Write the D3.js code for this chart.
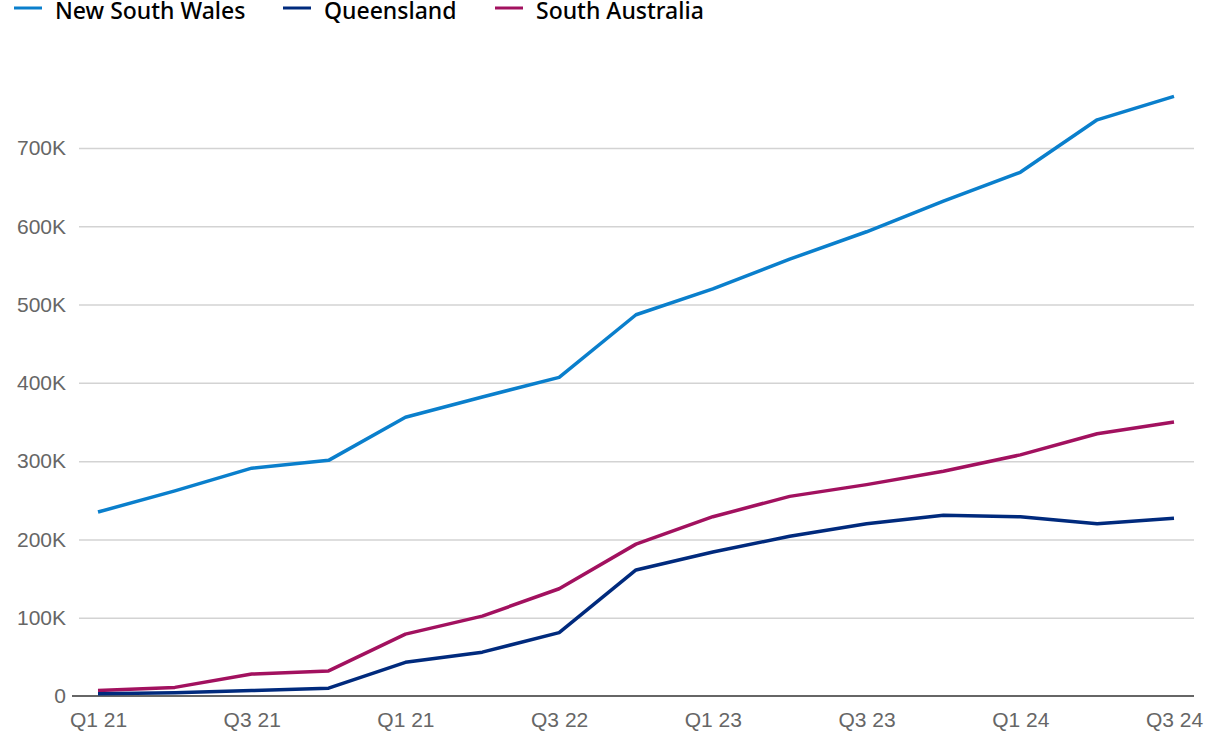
<!DOCTYPE html>
<html>
<head>
<meta charset="utf-8">
<script src="https://cdn.jsdelivr.net/npm/d3@7"></script>
<style>
  body { margin: 0; background: #fff; }
  svg { display: block; font-family: "Noto Sans", "Liberation Sans", sans-serif; }
</style>
</head>
<body>
<svg id="chart" width="1220" height="742"></svg>
<script>
// quarters shown on the x axis (the 5th label really reads "Q1 21" in the source)
var quarters = ["Q1 21", "Q2 21", "Q3 21", "Q4 21", "Q1 21", "Q2 22", "Q3 22", "Q4 22",
                "Q1 23", "Q2 23", "Q3 23", "Q4 23", "Q1 24", "Q2 24", "Q3 24"]
var tickEvery = 2

var nsw = [235000, 262000, 291000, 301000, 356000, 382000, 407000, 487000,
           520000, 558000, 593000, 632000, 669000, 736000, 766000]
var qld = [3000, 4000, 7000, 10000, 43000, 56000, 81000, 161000,
           184000, 204000, 220000, 231000, 229000, 220000, 227000]
var sa  = [7000, 11000, 28000, 32000, 79000, 102000, 137000, 194000,
           229000, 255000, 270000, 287000, 308000, 335000, 350000]

var seriesNames = ["New South Wales", "Queensland", "South Australia"]
var yTicks = [0, 100000, 200000, 300000, 400000, 500000, 600000, 700000]

var colors = ["#0a7fcc", "#002a7d", "#a2115f"]
var series = [nsw, qld, sa]

var svg = d3.select("#chart")

var x = d3.scalePoint()
  .domain(d3.range(quarters.length))
  .range([98, 1174])

var y = d3.scaleLinear()
  .domain([0, 700000])
  .range([696, 148])

// grid
var yAxis = d3.axisLeft(y)
  .tickValues(yTicks)
  .tickSize(-(1194 - 79))
  .tickPadding(13)
  .tickFormat(function(d){ return d === 0 ? "0" : (d / 1000) + "K" })

var gy = svg.append("g")
  .attr("transform", "translate(79,0)")
  .call(yAxis)
gy.select(".domain").remove()
gy.selectAll(".tick line")
  .attr("stroke", function(d){ return d === 0 ? "none" : "#d3d3d3" })
  .attr("stroke-width", 1.5)
gy.selectAll(".tick text")
  .attr("fill", "#666")
  .style("font-size", "21px")

// baseline
svg.append("line")
  .attr("x1", 72).attr("x2", 1194)
  .attr("y1", y(0)).attr("y2", y(0))
  .attr("stroke", "#666")
  .attr("stroke-width", 2)

// x axis labels
var xAxis = d3.axisBottom(x)
  .tickValues(d3.range(0, quarters.length, tickEvery))
  .tickSize(0)
  .tickPadding(16)
  .tickFormat(function(i){ return quarters[i] })

var gx = svg.append("g")
  .attr("transform", "translate(0," + y(0) + ")")
  .call(xAxis)
gx.select(".domain").remove()
gx.selectAll(".tick text")
  .attr("fill", "#666")
  .style("font-size", "21px")

// lines
var line = d3.line()
  .x(function(d, i){ return x(i) })
  .y(function(d){ return y(d) })

// draw nsw first, then sa, then qld
;[0, 2, 1].forEach(function(k){
  svg.append("path")
    .datum(series[k])
    .attr("fill", "none")
    .attr("stroke", colors[k])
    .attr("stroke-width", 3.5)
    .attr("stroke-linejoin", "round")
    .attr("d", line)
})

// legend sits right at the top edge like the source
var legendX = [14, 283, 495]
var legend = svg.append("g")
seriesNames.forEach(function(name, k){
  var g = legend.append("g").attr("transform", "translate(" + legendX[k] + ",0)")
  g.append("line")
    .attr("x1", 0).attr("x2", 28)
    .attr("y1", 8).attr("y2", 8)
    .attr("stroke", colors[k])
    .attr("stroke-width", 3)
  g.append("text")
    .attr("x", 41)
    .attr("y", 19)
    .attr("fill", "#000")
    .style("font-size", "23px")
    .style("font-weight", "500")
    .text(name)
})
</script>
</body>
</html>
